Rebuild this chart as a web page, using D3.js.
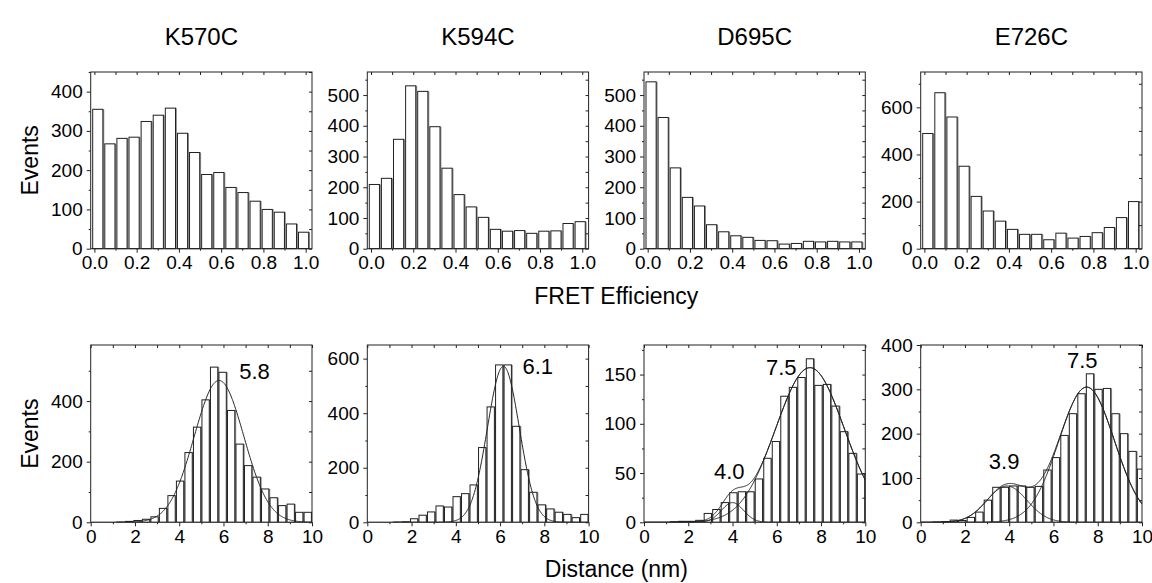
<!DOCTYPE html>
<html>
<head>
<meta charset="utf-8">
<title>FRET / distance histograms</title>
<script src="https://d3js.org/d3.v7.min.js"></script>
<style>
body { margin: 0; background: #fff; }
svg text { font-family: "Liberation Sans", Arial, sans-serif; fill: #000; }
</style>
</head>
<body>
<script>
// one column per mutant
var mutants = ["K570C", "K594C", "D695C", "E726C"];

// FRET efficiency histograms, 18 bins
var fretK570C = [355, 267, 281, 284, 324, 340, 358, 294, 245, 189, 194, 156, 143, 121, 100, 93, 63, 42];
var fretK594C = [209, 229, 356, 530, 512, 397, 262, 176, 136, 102, 63, 57, 59, 50, 57, 58, 82, 88];
var fretD695C = [543, 427, 263, 167, 139, 78, 55, 42, 37, 27, 26, 15, 17, 24, 22, 24, 22, 22];
var fretE726C = [489, 662, 559, 350, 222, 160, 117, 82, 61, 61, 38, 66, 45, 52, 68, 90, 132, 200];
var fretBinFirst = 0.016, fretBinWidth = 0.0573;
var fretYMax = [450, 575, 575, 750];
var fretYStep = [100, 100, 100, 200];
var fretTicks = [0, 0.2, 0.4, 0.6, 0.8, 1.0];

// distance histograms, 26 bins over 0-10 nm
var distK570C = [0, 0, 0, 1, 3, 6, 10, 18, 46, 88, 136, 230, 314, 404, 512, 495, 369, 258, 187, 149, 110, 81, 55, 60, 33, 33];
var distK594C = [0, 0, 0, 1, 2, 13, 26, 38, 60, 56, 94, 105, 137, 274, 423, 577, 577, 352, 193, 110, 64, 49, 37, 29, 17, 29];
var distD695C = [0, 0, 0, 0.5, 1, 1, 2, 9, 13, 20, 30, 31, 31, 44, 65, 82, 128, 137, 147, 166, 139, 140, 118, 92, 70, 49];
var distE726C = [0, 0.5, 1.5, 5, 4, 11, 23, 50, 79, 79, 82, 82, 79, 81, 118, 146, 196, 245, 290, 335, 300, 302, 245, 200, 160, 120];
var distBinShift = [0, 0, 0, 0.15];
var distYMax = [585, 650, 180, 400];
var distYStep = [200, 200, 50, 100];
var distTicks = [0, 2, 4, 6, 8, 10];

// gaussian fits: [centre, amplitude, sigma]
var fitK570C = [[5.8, 468, 1.12]];
var fitK594C = [[6.15, 572, 0.72]];
var fitD695C = [[4.0, 20, 0.5], [7.5, 157, 1.55]];
var fitE726C = [[3.9, 82, 0.9], [7.5, 305, 1.25]];

// peak labels: [text, x, y]
var labK570C = [["5.8", 7.4, 474]];
var labK594C = [["6.1", 7.7, 542]];
var labD695C = [["7.5", 6.2, 150], ["4.0", 3.85, 44]];
var labE726C = [["7.5", 7.3, 349], ["3.9", 3.77, 120]];

var fretData = [fretK570C, fretK594C, fretD695C, fretE726C];
var distData = [distK570C, distK594C, distD695C, distE726C];
var fitData = [fitK570C, fitK594C, fitD695C, fitE726C];
var labData = [labK570C, labK594C, labD695C, labE726C];

var width = 1152, height = 583;
var colX = [90.7, 367.3, 644, 920.7];
var panelW = 221.3;
var topY = 72, topH = 176.7;
var botY = 345, botH = 177.3;

var svg = d3.select("body").append("svg")
    .attr("width", width)
    .attr("height", height);

function range(a, b, s) {
  var out = [];
  for (var v = a; v <= b + 1e-9; v += s) out.push(+v.toFixed(4));
  return out;
}

// frame with ticks on all four sides
function frame(g, x, y, h, xMajor, xMinor, yMajor, yMinor, xFmt) {
  var axes = [
    [d3.axisBottom(x).tickValues(xMajor).tickSize(4).tickPadding(3).tickFormat(xFmt), "translate(0," + h + ")"],
    [d3.axisBottom(x).tickValues(xMinor).tickSize(2).tickFormat(""), "translate(0," + h + ")"],
    [d3.axisLeft(y).tickValues(yMajor).tickSize(4).tickPadding(4).tickFormat(d3.format("d")), null],
    [d3.axisLeft(y).tickValues(yMinor).tickSize(2).tickFormat(""), null],
    [d3.axisTop(x).tickValues(xMajor.concat(xMinor)).tickSize(-3).tickFormat(""), null],
    [d3.axisRight(y).tickValues(yMajor.concat(yMinor)).tickSize(-3).tickFormat(""), "translate(" + panelW + ",0)"]
  ];
  axes.forEach(function(a) {
    var ag = g.append("g").call(a[0]);
    if (a[1]) ag.attr("transform", a[1]);
    ag.select(".domain").remove();
    ag.selectAll("line").attr("stroke", "#222");
    ag.selectAll("text").attr("font-size", 19).attr("font-family", null);
  });
  g.append("rect")
    .attr("width", panelW).attr("height", h)
    .attr("fill", "none").attr("stroke", "#222").attr("stroke-width", 1);
}

function bars(g, x, y, rows) {
  // grey shadow, then white bar
  g.selectAll("rect.shadow").data(rows).enter().append("rect")
    .attr("class", "shadow")
    .attr("x", function(d) { return x(d.x0) + 1.4; })
    .attr("y", function(d) { return y(d.v); })
    .attr("width", function(d) { return x(d.x1) - x(d.x0); })
    .attr("height", function(d) { return y(0) - y(d.v); })
    .attr("fill", "#8f8f8f");
  g.selectAll("rect.bar").data(rows).enter().append("rect")
    .attr("class", "bar")
    .attr("x", function(d) { return x(d.x0); })
    .attr("y", function(d) { return y(d.v); })
    .attr("width", function(d) { return x(d.x1) - x(d.x0); })
    .attr("height", function(d) { return y(0) - y(d.v); })
    .attr("fill", "#fff")
    .attr("stroke", "#222")
    .attr("stroke-width", 1);
}

function gauss(p, t) {
  return p[1] * Math.exp(-(t - p[0]) * (t - p[0]) / (2 * p[2] * p[2]));
}

mutants.forEach(function(name, c) {
  // column title
  svg.append("text")
    .attr("x", colX[c] + panelW / 2).attr("y", 45)
    .attr("text-anchor", "middle").attr("font-size", 24)
    .text(name);

  // --- FRET efficiency histogram ---
  var gt = svg.append("g").attr("transform", "translate(" + colX[c] + "," + topY + ")");
  var xt = d3.scaleLinear().domain([-0.0175, 1.03]).range([0, panelW]);
  var yt = d3.scaleLinear().domain([0, fretYMax[c]]).range([topH, 0]);
  var half = fretBinWidth * 0.42;
  var rowsT = fretData[c].map(function(v, i) {
    var m = fretBinFirst + i * fretBinWidth;
    return {x0: m - half, x1: m + half, v: v};
  });
  bars(gt, xt, yt, rowsT);
  frame(gt, xt, yt, topH, fretTicks, range(0.1, 0.9, 0.2),
        range(0, fretYMax[c], fretYStep[c]),
        range(fretYStep[c] / 2, fretYMax[c], fretYStep[c]),
        d3.format(".1f"));

  // --- distance histogram with gaussian fits ---
  var gb = svg.append("g").attr("transform", "translate(" + colX[c] + "," + botY + ")");
  var xb = d3.scaleLinear().domain([0, 10]).range([0, panelW]);
  var yb = d3.scaleLinear().domain([0, distYMax[c]]).range([botH, 0]);
  var clipId = "clip" + c;
  gb.append("clipPath").attr("id", clipId).append("rect")
    .attr("width", panelW).attr("height", botH);
  var inner = gb.append("g").attr("clip-path", "url(#" + clipId + ")");
  var bw = 10 / distData[c].length;
  var rowsB = distData[c].map(function(v, i) {
    var m = distBinShift[c] + (i + 0.5) * bw;
    return {x0: m - bw * 0.43, x1: m + bw * 0.43, v: v};
  }).filter(function(d) { return d.v > 0; });
  bars(inner, xb, yb, rowsB);

  var ts = range(0, 10, 0.02);
  var comps = fitData[c];
  var curves = comps.map(function(p) {
    return ts.map(function(t) { return [t, gauss(p, t)]; });
  });
  if (comps.length > 1) {
    curves.push(ts.map(function(t) {
      return [t, d3.sum(comps, function(p) { return gauss(p, t); })];
    }));
  }
  inner.selectAll("path.fit").data(curves).enter().append("path")
    .attr("class", "fit")
    .attr("d", d3.line().x(function(d) { return xb(d[0]); }).y(function(d) { return yb(d[1]); }))
    .attr("fill", "none").attr("stroke", "#222").attr("stroke-width", 1);

  frame(gb, xb, yb, botH, distTicks, range(1, 9, 2),
        range(0, distYMax[c], distYStep[c]),
        range(distYStep[c] / 2, distYMax[c], distYStep[c]),
        d3.format("d"));

  labData[c].forEach(function(l) {
    gb.append("text")
      .attr("x", xb(l[1])).attr("y", yb(l[2]))
      .attr("text-anchor", "middle").attr("font-size", 22)
      .text(l[0]);
  });
});

// shared axis titles
svg.append("text")
  .attr("x", (colX[0] + colX[3] + panelW) / 2).attr("y", 304)
  .attr("text-anchor", "middle").attr("font-size", 23)
  .text("FRET Efficiency");
svg.append("text")
  .attr("x", (colX[0] + colX[3] + panelW) / 2).attr("y", 577)
  .attr("text-anchor", "middle").attr("font-size", 23)
  .text("Distance (nm)");
[topY + topH / 2, botY + botH / 2].forEach(function(cy) {
  svg.append("text")
    .attr("transform", "translate(30," + cy + ") rotate(-90)")
    .attr("text-anchor", "middle").attr("dy", "0.35em").attr("font-size", 23)
    .text("Events");
});
</script>
</body>
</html>
